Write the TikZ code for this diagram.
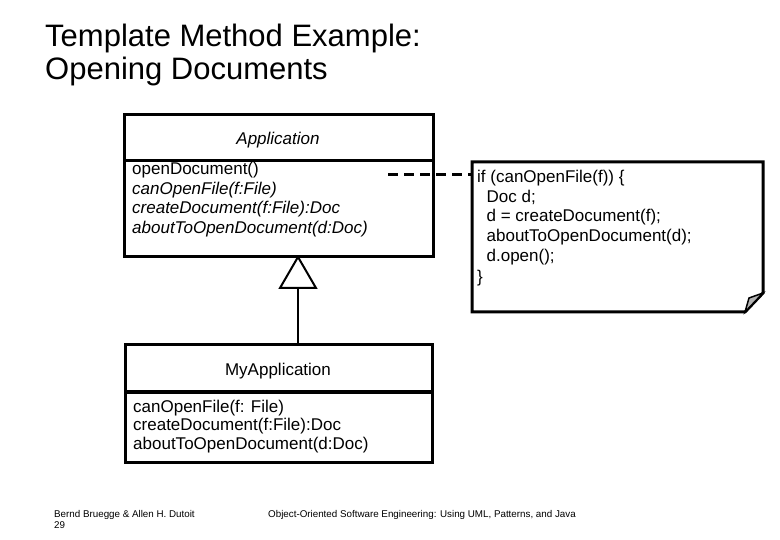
\documentclass[tikz,border=0pt]{standalone}
\usepackage{fontspec}
\setmainfont{Liberation Sans}
\begin{document}
\begin{tikzpicture}[x=1pt,y=-1pt,
  box/.style={draw,line width=3pt,fill=white},
  txt/.style={anchor=base west,inner sep=0pt,font=\fontsize{17}{20}\selectfont},
  foot/.style={anchor=base west,inner sep=0pt,font=\fontsize{9.8}{11}\selectfont}]
\useasboundingbox (0,0) rectangle (780,540);
% title
\node[anchor=base west,inner sep=0pt,font=\fontsize{31}{36}\selectfont] (t1) at (45,47) {Template Method Example:};
\node[anchor=base west,inner sep=0pt,font=\fontsize{31}{36}\selectfont] (t2) at (45,80) {Opening Documents};
% Application
\draw[box] (124,115) rectangle (433,257);
\draw[line width=3pt] (124,161) -- (433,161);
\node[txt,anchor=base] (an) at (278,145) {\itshape Application};
\node[txt] (a1) at (132,175) {openDocument()};
\node[txt] (a2) at (132,195) {\itshape canOpenFile(f:File)};
\node[txt] (a3) at (132,214) {\itshape createDocument(f:File):Doc};
\node[txt] (a4) at (132,234) {\itshape aboutToOpenDocument(d:Doc)};
% inheritance
\coordinate (tip) at (298,257);
\coordinate (bl) at (280,288);
\coordinate (br) at (316,288);
\draw[line width=2pt,fill=white] (tip) -- (bl) -- (br) -- cycle;
\draw[line width=2pt] (298,288) -- (298,345);
% MyApplication
\draw[box] (125,345) rectangle (432,462);
\draw[line width=3pt] (125,392) -- (432,392);
\node[txt,anchor=base] (mn) at (278,375) {MyApplication};
\node[txt] (m1) at (133,412) {canOpenFile(f: File)};
\node[txt] (m2) at (133,431) {createDocument(f:File):Doc};
\node[txt] (m3) at (133,449) {aboutToOpenDocument(d:Doc)};
% note
\draw[line width=3pt,fill=white] (472,162) -- (763,162) -- (763,293) -- (745,312) -- (472,312) -- cycle;
\draw[line width=1.5pt,fill=gray!60] (745,312) -- (749,298) -- (763,293) -- cycle;
\draw[line width=3pt,dash pattern=on 10pt off 6pt] (388,175) -- (472,175);
\node[txt] (n1) at (477,183) {if (canOpenFile(f)) \{};
\node[txt] (n2) at (477,203) {\ \ Doc d;};
\node[txt] (n3) at (477,222) {\ \ d = createDocument(f);};
\node[txt] (n4) at (477,242) {\ \ aboutToOpenDocument(d);};
\node[txt] (n5) at (477,262) {\ \ d.open();};
\node[txt] (n6) at (477,283) {\}};
% footer
\node[foot] (f1) at (54,517) {Bernd Bruegge \& Allen H. Dutoit};
\node[foot] (f2) at (54,528) {29};
\node[foot] (f3) at (268,517) {Object-Oriented Software Engineering: Using UML, Patterns, and Java};
\end{tikzpicture}
\end{document}
